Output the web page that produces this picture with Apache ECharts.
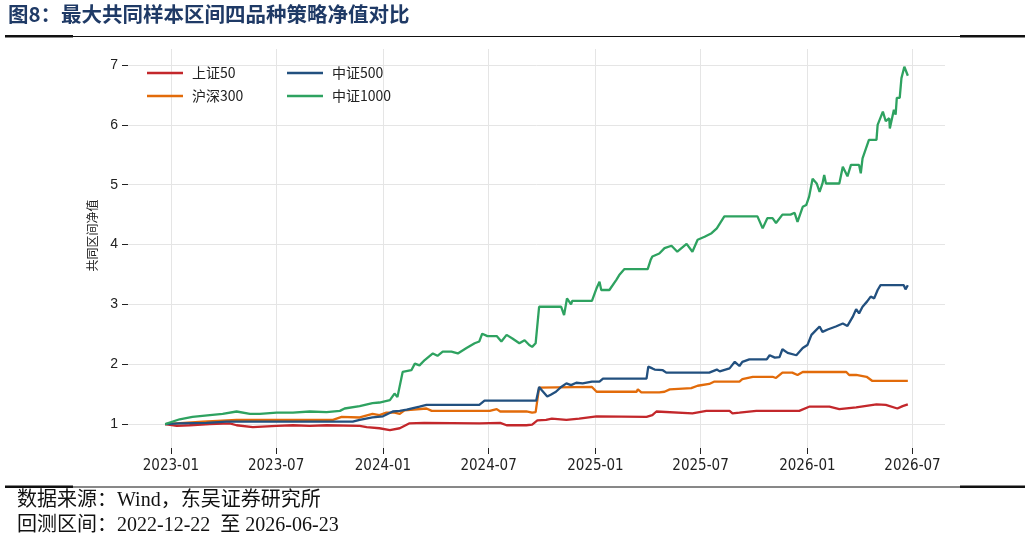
<!DOCTYPE html>
<html>
<head>
<meta charset="utf-8">
<script src="https://cdn.jsdelivr.net/npm/echarts@6/dist/echarts.min.js"></script>
<style>
html, body { margin: 0; padding: 0; background: #fff; }
#main { width: 1032px; height: 542px; }
</style>
</head>
<body>
<div id="main"></div>
<script>
// 四品种策略净值
const seriesNames = ['上证50', '沪深300', '中证500', '中证1000'];
const seriesColors = ['#c3272b', '#e26b0a', '#22507f', '#2ea260'];
const xTickDates = ['2023-01-01', '2023-07-01', '2024-01-01', '2024-07-01', '2025-01-01', '2025-07-01', '2026-01-01', '2026-07-01'];
const yTicks = [1, 2, 3, 4, 5, 6, 7];

const sz50 = [
    ['2022-12-22', 1.00], ['2023-01-11', 0.97], ['2023-02-02', 0.98], ['2023-03-09', 1.00], ['2023-04-12', 1.01],
    ['2023-04-24', 0.98], ['2023-05-22', 0.95], ['2023-07-02', 0.97], ['2023-07-30', 0.98], ['2023-08-28', 0.97],
    ['2023-09-26', 0.98], ['2023-11-22', 0.97], ['2023-12-04', 0.95], ['2023-12-26', 0.93], ['2024-01-13', 0.90],
    ['2024-01-30', 0.93], ['2024-02-15', 1.01], ['2024-03-12', 1.02], ['2024-06-15', 1.01], ['2024-07-21', 1.02],
    ['2024-08-01', 0.98], ['2024-09-04', 0.98], ['2024-09-14', 0.99], ['2024-09-23', 1.06], ['2024-10-08', 1.07],
    ['2024-10-18', 1.09], ['2024-11-12', 1.07], ['2024-12-04', 1.09], ['2025-01-03', 1.13], ['2025-03-30', 1.12],
    ['2025-04-09', 1.15], ['2025-04-16', 1.21], ['2025-06-17', 1.18], ['2025-07-11', 1.22], ['2025-08-20', 1.22],
    ['2025-08-25', 1.18], ['2025-09-06', 1.19], ['2025-10-05', 1.22], ['2025-12-18', 1.22], ['2026-01-04', 1.29],
    ['2026-02-08', 1.29], ['2026-02-25', 1.25], ['2026-03-26', 1.28], ['2026-04-30', 1.33], ['2026-05-16', 1.32],
    ['2026-06-05', 1.26], ['2026-06-14', 1.30], ['2026-06-23', 1.33]
];
const hs300 = [
    ['2022-12-22', 1.00], ['2023-02-25', 1.04], ['2023-04-24', 1.07], ['2023-10-07', 1.07], ['2023-10-22', 1.12],
    ['2023-11-22', 1.11], ['2023-12-14', 1.17], ['2023-12-26', 1.15], ['2024-01-07', 1.19], ['2024-01-21', 1.19],
    ['2024-01-30', 1.17], ['2024-02-07', 1.23], ['2024-03-16', 1.26], ['2024-03-25', 1.22], ['2024-07-03', 1.22],
    ['2024-07-15', 1.25], ['2024-07-21', 1.21], ['2024-09-04', 1.21], ['2024-09-14', 1.19], ['2024-09-20', 1.20],
    ['2024-09-26', 1.61], ['2024-12-26', 1.62], ['2025-01-03', 1.54], ['2025-03-13', 1.54], ['2025-03-15', 1.58],
    ['2025-03-21', 1.53], ['2025-04-21', 1.53], ['2025-04-30', 1.54], ['2025-05-09', 1.58], ['2025-06-15', 1.60],
    ['2025-06-26', 1.64], ['2025-07-16', 1.67], ['2025-07-25', 1.71], ['2025-09-06', 1.71], ['2025-09-11', 1.75],
    ['2025-09-29', 1.79], ['2025-11-02', 1.79], ['2025-11-08', 1.77], ['2025-11-19', 1.86], ['2025-12-06', 1.86],
    ['2025-12-15', 1.82], ['2025-12-24', 1.87], ['2026-03-09', 1.87], ['2026-03-14', 1.82], ['2026-03-26', 1.82],
    ['2026-04-13', 1.79], ['2026-04-23', 1.72], ['2026-06-23', 1.72]
];
const zz500 = [
    ['2022-12-22', 1.00], ['2023-01-16', 1.01], ['2023-03-03', 1.02], ['2023-04-07', 1.04], ['2023-11-10', 1.04],
    ['2023-11-22', 1.07], ['2023-12-14', 1.11], ['2024-01-01', 1.13], ['2024-01-18', 1.21], ['2024-01-30', 1.22],
    ['2024-02-11', 1.24], ['2024-03-04', 1.29], ['2024-03-16', 1.32], ['2024-06-15', 1.32], ['2024-06-24', 1.39],
    ['2024-09-21', 1.39], ['2024-09-26', 1.62], ['2024-10-01', 1.56], ['2024-10-10', 1.46], ['2024-10-16', 1.49],
    ['2024-10-25', 1.54], ['2024-11-03', 1.62], ['2024-11-12', 1.68], ['2024-11-20', 1.65], ['2024-11-29', 1.69],
    ['2024-12-10', 1.68], ['2024-12-26', 1.71], ['2025-01-08', 1.71], ['2025-01-14', 1.76], ['2025-03-30', 1.76],
    ['2025-04-02', 1.96], ['2025-04-09', 1.93], ['2025-04-13', 1.91], ['2025-04-27', 1.90], ['2025-05-03', 1.86],
    ['2025-07-16', 1.86], ['2025-07-29', 1.91], ['2025-08-03', 1.88], ['2025-08-20', 1.93], ['2025-08-29', 2.04],
    ['2025-09-06', 1.97], ['2025-09-11', 2.04], ['2025-09-23', 2.08], ['2025-10-23', 2.08], ['2025-10-28', 2.15],
    ['2025-11-06', 2.11], ['2025-11-14', 2.12], ['2025-11-19', 2.25], ['2025-11-28', 2.19], ['2025-12-13', 2.15],
    ['2025-12-24', 2.27], ['2026-01-01', 2.32], ['2026-01-08', 2.49], ['2026-01-13', 2.54], ['2026-01-22', 2.63],
    ['2026-01-27', 2.54], ['2026-02-05', 2.58], ['2026-02-19', 2.63], ['2026-03-03', 2.68], ['2026-03-11', 2.64],
    ['2026-03-20', 2.79], ['2026-03-26', 2.92], ['2026-03-31', 2.85], ['2026-04-06', 2.96], ['2026-04-14', 3.05],
    ['2026-04-20', 3.13], ['2026-04-26', 3.10], ['2026-05-02', 3.24], ['2026-05-07', 3.32], ['2026-06-16', 3.32],
    ['2026-06-19', 3.25], ['2026-06-23', 3.32]
];
const zz1000 = [
    ['2022-12-22', 1.00], ['2023-01-16', 1.08], ['2023-02-07', 1.12], ['2023-03-09', 1.15], ['2023-03-31', 1.17],
    ['2023-04-24', 1.21], ['2023-05-17', 1.17], ['2023-06-03', 1.17], ['2023-07-02', 1.19], ['2023-07-30', 1.19],
    ['2023-08-28', 1.21], ['2023-09-26', 1.20], ['2023-10-19', 1.22], ['2023-10-27', 1.26], ['2023-11-22', 1.30],
    ['2023-12-14', 1.35], ['2023-12-26', 1.36], ['2024-01-13', 1.40], ['2024-01-21', 1.51], ['2024-01-26', 1.45],
    ['2024-02-04', 1.87], ['2024-02-19', 1.90], ['2024-02-25', 2.01], ['2024-03-04', 1.98], ['2024-03-13', 2.07],
    ['2024-03-27', 2.18], ['2024-04-04', 2.14], ['2024-04-13', 2.21], ['2024-04-28', 2.21], ['2024-05-09', 2.18],
    ['2024-05-24', 2.27], ['2024-06-07', 2.35], ['2024-06-15', 2.38], ['2024-06-20', 2.51], ['2024-06-29', 2.47],
    ['2024-07-15', 2.47], ['2024-07-23', 2.38], ['2024-08-01', 2.49], ['2024-08-11', 2.43], ['2024-08-23', 2.35],
    ['2024-09-01', 2.40], ['2024-09-09', 2.32], ['2024-09-14', 2.29], ['2024-09-20', 2.35], ['2024-09-26', 2.96],
    ['2024-11-03', 2.96], ['2024-11-08', 2.82], ['2024-11-13', 3.10], ['2024-11-20', 3.00], ['2024-11-22', 3.06],
    ['2024-12-26', 3.06], ['2025-01-03', 3.27], ['2025-01-08', 3.38], ['2025-01-11', 3.24], ['2025-01-25', 3.24],
    ['2025-02-06', 3.41], ['2025-02-11', 3.49], ['2025-02-20', 3.59], ['2025-04-01', 3.59], ['2025-04-06', 3.74],
    ['2025-04-09', 3.80], ['2025-04-21', 3.85], ['2025-04-30', 3.94], ['2025-05-12', 3.98], ['2025-05-22', 3.88],
    ['2025-06-07', 4.01], ['2025-06-17', 3.88], ['2025-06-26', 4.08], ['2025-07-08', 4.13], ['2025-07-20', 4.19],
    ['2025-07-29', 4.27], ['2025-08-11', 4.47], ['2025-10-07', 4.47], ['2025-10-16', 4.27], ['2025-10-24', 4.44],
    ['2025-11-02', 4.44], ['2025-11-08', 4.36], ['2025-11-19', 4.50], ['2025-12-03', 4.50], ['2025-12-10', 4.53],
    ['2025-12-15', 4.38], ['2025-12-24', 4.63], ['2025-12-30', 4.66], ['2026-01-04', 4.80], ['2026-01-10', 5.10],
    ['2026-01-17', 5.02], ['2026-01-22', 4.88], ['2026-01-27', 5.02], ['2026-01-30', 5.16], ['2026-02-02', 5.02],
    ['2026-02-25', 5.02], ['2026-03-03', 5.30], ['2026-03-11', 5.14], ['2026-03-17', 5.33], ['2026-03-31', 5.33],
    ['2026-04-03', 5.19], ['2026-04-06', 5.44], ['2026-04-17', 5.75], ['2026-04-30', 5.75], ['2026-05-02', 6.00],
    ['2026-05-11', 6.22], ['2026-05-16', 6.06], ['2026-05-22', 6.11], ['2026-05-23', 5.94], ['2026-05-30', 6.25],
    ['2026-06-02', 6.17], ['2026-06-04', 6.45], ['2026-06-09', 6.45], ['2026-06-12', 6.78], ['2026-06-17', 6.97],
    ['2026-06-23', 6.82]
];
const seriesData = [sz50, hs300, zz500, zz1000];

const titleText = '图8：最大共同样本区间四品种策略净值对比';
const sourceText = '数据来源：Wind，东吴证券研究所';
const rangeText = '回测区间：2022-12-22  至 2026-06-23';

const serifFont = "'Liberation Serif', 'Noto Sans CJK SC'";
const toTime = d => echarts.time.parse(d).getTime();
const myChart = echarts.init(document.getElementById('main'));

// 图例：两列两行
const legendPos = [[142, 61], [142, 84], [282, 61], [282, 84]];
const legends = seriesNames.map((name, i) => ({
    data: [name],
    left: legendPos[i][0],
    top: legendPos[i][1],
    itemWidth: 36,
    itemHeight: 14,
    icon: 'path://M0,6 L36,6 L36,8.6 L0,8.6 Z',
    textStyle: { fontSize: 14, color: '#222', fontFamily: "'Noto Sans CJK SC'", padding: [0, 0, 0, 4] }
}));

const xTicks = xTickDates.map(toTime);

const option = {
    backgroundColor: '#fff',
    animation: false,
    color: seriesColors,
    legend: legends,
    grid: { left: 128, right: 87, top: 49, bottom: 94, containLabel: false },
    xAxis: {
        type: 'value',
        min: toTime('2022-10-19'),
        max: toTime('2026-08-26'),
        axisLine: { show: false },
        axisTick: { show: true, length: 6, lineStyle: { color: '#222', width: 1 }, customValues: xTicks },
        axisLabel: {
            color: '#222', fontSize: 15, margin: 11,
            fontFamily: "'DejaVu Sans Condensed', 'Liberation Sans Narrow', sans-serif",
            customValues: xTicks,
            formatter: v => echarts.time.format(v, '{yyyy}-{MM}', false)
        },
        splitLine: { show: true, lineStyle: { color: '#e5e5e5', width: 1 } }
    },
    yAxis: {
        type: 'value',
        min: 0.6,
        max: 7.267,
        name: '共同区间净值',
        nameLocation: 'middle',
        nameGap: 30,
        nameRotate: 90,
        nameTextStyle: { fontSize: 12, color: '#222', fontFamily: "'Noto Sans CJK SC'", padding: [0, 0, 0, 26] },
        axisLine: { show: false },
        axisTick: { show: true, length: 6, lineStyle: { color: '#222', width: 1 }, customValues: yTicks },
        axisLabel: { color: '#222', fontSize: 14, margin: 10, fontFamily: "'Liberation Sans', Arial", customValues: yTicks },
        splitLine: { show: true, lineStyle: { color: '#e5e5e5', width: 1 } }
    },
    series: seriesNames.map((name, i) => ({
        name: name,
        type: 'line',
        data: seriesData[i].map(p => [toTime(p[0]), p[1]]),
        showSymbol: false,
        symbol: 'none',
        lineStyle: { width: 2.3, color: seriesColors[i] },
        z: 2 + i
    })),
    graphic: [
        { type: 'text', left: 8, top: 4, style: { text: titleText, font: "bold 20.5px 'Noto Sans CJK SC'", fill: '#1f3a66' } },
        { type: 'rect', shape: { x: 5, y: 35, width: 68, height: 2.5 }, style: { fill: '#111' } },
        { type: 'line', shape: { x1: 5, y1: 36.5, x2: 1025, y2: 36.5 }, style: { stroke: '#111', lineWidth: 1 } },
        { type: 'rect', shape: { x: 960, y: 35, width: 65, height: 2.5 }, style: { fill: '#111' } },
        { type: 'rect', shape: { x: 5, y: 485.5, width: 68, height: 2.5 }, style: { fill: '#111' } },
        { type: 'line', shape: { x1: 5, y1: 487, x2: 1025, y2: 487 }, style: { stroke: '#111', lineWidth: 1 } },
        { type: 'rect', shape: { x: 960, y: 485.5, width: 65, height: 2.5 }, style: { fill: '#111' } },
        { type: 'text', left: 17, top: 491, style: { text: sourceText, font: "20px " + serifFont, fill: '#111' } },
        { type: 'text', left: 17, top: 516, style: { text: rangeText, font: "20px " + serifFont, fill: '#111' } }
    ]
};
myChart.setOption(option);
</script>
</body>
</html>
